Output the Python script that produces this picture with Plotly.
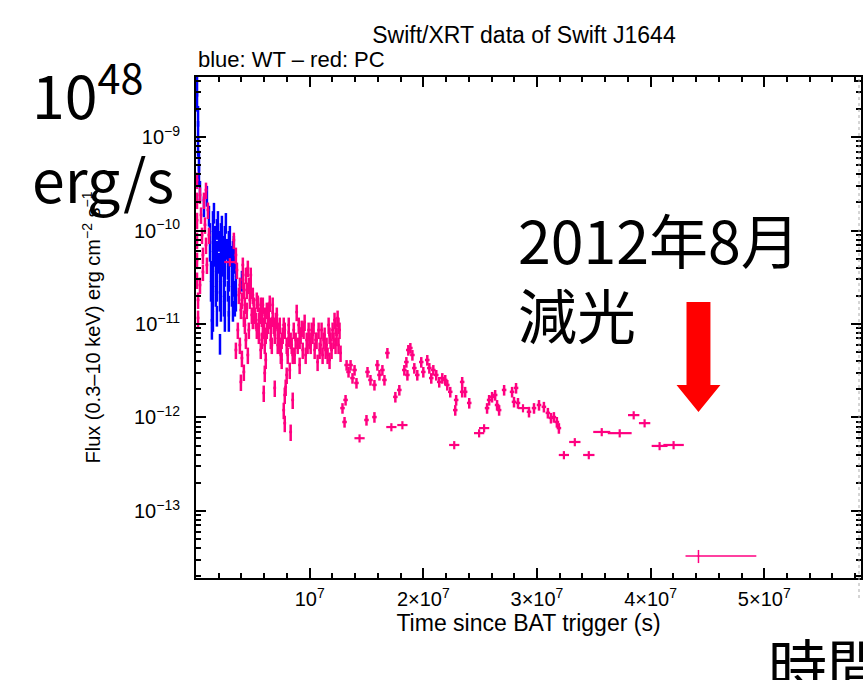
import numpy as np
import plotly.graph_objects as go

# ---------------- data (time in units of 1e7 s, flux in erg cm^-2 s^-1) ----------------
t_wt = [0.009, 0.009, 0.018, 0.018, 0.018, 0.026, 0.026, 0.035, 0.07, 0.096,
        0.114, 0.123, 0.123, 0.132, 0.132, 0.14, 0.14, 0.158, 0.167, 0.167, 0.175, 0.175, 0.184,
        0.193, 0.202, 0.202, 0.211, 0.211, 0.211, 0.228, 0.237, 0.237, 0.246, 0.246, 0.254,
        0.263, 0.272, 0.281, 0.281, 0.289, 0.298, 0.307, 0.316, 0.316, 0.325, 0.333, 0.342,
        0.351, 0.351, 0.404,
        0.149, 0.184, 0.219, 0.254, 0.289, 0.325, 0.149, 0.219,
        0.149, 0.149, 0.149, 0.149, 0.184, 0.184, 0.184, 0.219, 0.219, 0.219,
        0.254, 0.254, 0.254, 0.289, 0.289, 0.289, 0.325, 0.325, 0.342, 0.342]
f_wt = [3.6e-9, 2.49e-9, 1.72e-9, 1.19e-9, 8.2e-10, 5.7e-10, 3.92e-10, 2.71e-10, 1.85e-10, 2.4e-10,
        1.47e-10, 9.6e-11, 6.18e-11, 3.78e-11, 2.31e-11, 1.41e-11, 9.06e-12, 1.58e-10, 8.95e-11,
        5.47e-11, 3.34e-11, 2.04e-11, 1.25e-11, 1.29e-10, 7.9e-11, 4.6e-11, 2.81e-11, 1.81e-11,
        6.26e-12, 1.15e-10, 7.0e-11, 4.28e-11, 2.61e-11, 1.6e-11, 1.1e-11, 1.23e-10, 6.5e-11,
        3.97e-11, 2.31e-11, 1.6e-11, 8.95e-11, 5.47e-11, 3.34e-11, 2.04e-11, 1.41e-11, 7.0e-11,
        4.6e-11, 2.81e-11, 1.81e-11, 2.96e-11,
        4.83e-11, 6.18e-11, 3.78e-11, 5.47e-11, 2.96e-11, 4.28e-11, 1.81e-11, 1.41e-11,
        1.29e-10, 7.9e-11, 2.96e-11, 1.1e-11, 1.06e-10, 3.78e-11, 2.31e-11, 9.6e-11, 6.18e-11, 2.31e-11,
        8.95e-11, 3.34e-11, 1.81e-11, 7.9e-11, 4.83e-11, 1.1e-11, 6.18e-11, 2.61e-11, 2.31e-11, 1.6e-11]

# PC, densely sampled early part (short time bins)
t_pc_dense = [0.009, 0.009, 0.009, 0.009, 0.009, 0.009, 0.018, 0.018, 0.035, 0.044, 0.053, 0.061,
              0.07, 0.079, 0.088, 0.096, 0.105, 0.088, 0.061, 0.035, 0.114,
              0.333, 0.351, 0.36,
              0.386, 0.404, 0.421, 0.439, 0.456, 0.465, 0.474, 0.491, 0.447, 0.421,
              0.368, 0.386, 0.404, 0.421, 0.439, 0.456, 0.395, 0.351,
              0.377, 0.412, 0.43, 0.482, 0.5, 0.465,
              0.509, 0.526, 0.544, 0.553, 0.57, 0.579, 0.596, 0.605, 0.623, 0.632, 0.649, 0.658,
              0.675, 0.693, 0.614,
              0.535, 0.561, 0.588, 0.614, 0.64, 0.667, 0.684, 0.579, 0.711, 0.728, 0.746,
              0.596, 0.693, 0.605, 0.781, 0.789, 0.772, 0.781, 0.833, 0.851,
              0.719, 0.737, 0.754, 0.763, 0.807, 0.825, 0.798, 0.842, 0.86, 0.877,
              0.886, 0.904, 0.921, 0.939, 0.956, 0.974, 0.991, 1.009, 1.026, 1.044,
              1.061, 1.079, 1.096, 1.114, 1.132, 1.149, 1.167, 1.184, 1.202, 1.219,
              1.237, 1.246, 1.254, 1.263, 1.272, 0.912, 1.07, 1.175,
              0.772, 0.816, 0.868, 0.895, 0.93, 0.965, 1.0, 1.035, 1.088, 1.123, 1.158, 1.193,
              1.228, 1.254]
f_pc_dense = [3.47e-10, 2.12e-10, 1.29e-10, 7.9e-11, 4.83e-11, 2.96e-11, 1.81e-11, 1.16e-11, 2.4e-10,
              1.47e-10, 8.95e-11, 5.47e-11, 2.12e-10, 1.15e-10, 7.0e-11, 4.28e-11, 1.66e-10, 2.71e-10,
              3.6e-11, 2.61e-11, 8.95e-11,
              7.9e-11, 5.47e-11, 3.78e-11,
              2.61e-11, 1.81e-11, 2.31e-11, 3.34e-11, 3.97e-11, 2.61e-11, 1.81e-11, 1.25e-11, 1.41e-11,
              1.16e-11,
              8.63e-12, 5.96e-12, 4.32e-12, 3.07e-12, 6.74e-12, 4.66e-12, 2.4e-12, 5.27e-12,
              2.04e-11, 2.96e-11, 1.6e-11, 2.31e-11, 1.1e-11, 8.63e-12,
              1.6e-11, 1.1e-11, 1.68e-11, 7.63e-12, 5.27e-12, 1.16e-11, 8.63e-12, 5.96e-12, 1.41e-11,
              9.76e-12, 1.68e-11, 6.74e-12, 1.16e-11, 7.63e-12, 4.12e-12,
              8.63e-12, 1.25e-11, 1.6e-11, 7.63e-12, 1.1e-11, 5.96e-12, 9.76e-12, 6.74e-12, 1.25e-11,
              6.74e-12, 4.66e-12,
              1.83e-12, 2.07e-12, 2.99e-12, 1.74e-12, 2.12e-12, 1.2e-12, 8.7e-13, 7.0e-13, 1.54e-12,
              8.63e-12, 5.96e-12, 4.12e-12, 7.63e-12, 4.66e-12, 3.22e-12, 2.85e-12, 5.96e-12, 8.63e-12,
              6.74e-12,
              1.34e-11, 9.76e-12, 7.63e-12, 5.27e-12, 1.05e-11, 6.74e-12, 8.63e-12, 5.96e-12, 7.63e-12,
              5.27e-12,
              6.74e-12, 8.63e-12, 5.96e-12, 4.66e-12, 7.63e-12, 5.96e-12, 9.76e-12, 6.74e-12, 8.63e-12,
              1.1e-11,
              7.63e-12, 1.16e-11, 5.96e-12, 8.63e-12, 4.9e-12, 3.64e-12, 3.92e-12, 4.12e-12,
              9.76e-12, 7.08e-12, 4.66e-12, 5.96e-12, 9.06e-12, 4.66e-12, 6.74e-12, 9.76e-12,
              5.27e-12, 6.74e-12, 4.66e-12, 5.27e-12, 5.96e-12, 9.76e-12]

# more PC points inside the dense early band
t_pc_dense2 = [0.395, 0.412, 0.43, 0.447, 0.482, 0.5, 0.518, 0.535, 0.553, 0.57, 0.588, 0.605,
               0.623, 0.64, 0.658, 0.675, 0.702, 0.719, 0.737, 0.754, 0.781, 0.798, 0.816, 0.833,
               0.851,
               0.912, 0.947, 0.982, 1.018, 1.053, 1.105, 1.14, 1.175, 1.211, 1.228]
f_pc_dense2 = [1.41e-11, 4.28e-11, 9.76e-12, 2.31e-11, 3.34e-11, 2.04e-11, 1.25e-11, 1.81e-11,
               1.1e-11, 1.6e-11, 9.76e-12, 1.25e-11, 8.63e-12, 1.41e-11, 9.76e-12, 1.6e-11, 1.1e-11,
               5.96e-12, 9.76e-12, 6.74e-12, 8.63e-12, 5.96e-12, 9.76e-12, 6.74e-12, 4.66e-12,
               6.74e-12, 8.63e-12, 5.96e-12, 8.63e-12, 6.74e-12, 8.63e-12, 5.27e-12, 7.63e-12,
               6.74e-12, 9.76e-12]

# PC, intermediate part
t_pc_mid = [1.289, 1.316, 1.307, 1.325, 1.342, 1.36, 1.377, 1.395, 1.412, 1.5,
            1.57, 1.509, 1.535, 1.57, 1.596, 1.614, 1.64, 1.658, 1.684, 1.754,
            1.789, 1.833, 1.851, 1.868, 1.886, 1.904, 1.921, 1.947, 1.86, 1.982,
            2.0, 2.035, 2.053, 2.07, 2.088, 2.114, 2.14, 2.167, 2.193, 2.211,
            2.237, 2.281, 2.289, 2.342, 2.342, 2.368, 2.404, 2.561, 2.579, 2.605,
            2.632, 2.649, 2.667, 2.711, 2.781, 2.798, 2.816, 2.833, 2.93, 2.974,
            3.018, 3.061, 3.096, 3.123, 3.149, 3.175, 3.193]
f_pc_mid = [1.26e-12, 1.54e-12, 8.95e-13, 3.64e-12, 3.07e-12, 3.64e-12, 2.64e-12, 3.22e-12, 2.34e-12, 9.4e-13,
            1.01e-12, 3.07e-12, 2.52e-12, 2.23e-12, 3.64e-12, 2.85e-12, 3.22e-12, 2.52e-12, 4.9e-12, 1.66e-12,
            1.97e-12, 3.22e-12, 3.92e-12, 5.27e-12, 5.54e-12, 4.66e-12, 3.38e-12, 2.85e-12, 2.85e-12, 3.92e-12,
            3.07e-12, 4.12e-12, 3.38e-12, 2.64e-12, 3.22e-12, 2.85e-12, 2.4e-12, 2.64e-12, 2.52e-12, 2.23e-12,
            1.88e-12, 1.2e-12, 1.54e-12, 1.88e-12, 2.4e-12, 1.88e-12, 1.43e-12, 1.26e-12, 1.54e-12, 1.66e-12,
            1.74e-12, 1.36e-12, 1.2e-12, 1.97e-12, 1.88e-12, 1.47e-12, 2.07e-12, 1.43e-12, 1.15e-12, 1.26e-12,
            1.36e-12, 1.3e-12, 1.12e-12, 9.9e-13, 1.01e-12, 8.95e-13, 7.7e-13]

# PC, wide-bin points (half-width of time bin, units of 1e7 s)
t_pc_wide = [0.298, 1.439, 1.719, 1.816, 2.272, 2.491, 2.535, 2.877, 3.237, 3.333, 3.456,
             3.57, 3.728, 3.851, 3.947, 4.079, 4.202]
f_pc_wide = [4.6e-11, 6.0e-13, 7.9e-13, 8.3e-13, 5.08e-13, 6.8e-13, 7.7e-13, 1.26e-12, 3.97e-13,
             5.47e-13, 3.97e-13, 7.0e-13, 6.8e-13, 1.06e-12, 8.7e-13, 4.96e-13, 5.08e-13]
dt_pc_wide = [0.05, 0.045, 0.045, 0.045, 0.045, 0.045, 0.045, 0.045, 0.045, 0.05, 0.05,
              0.075, 0.105, 0.05, 0.05, 0.07, 0.09]

# last (late) PC point with asymmetric time bin
t_pc_last = [4.421]
f_pc_last = [3.3e-14]
dt_last_minus = [0.114]
dt_last_plus = [0.509]

x_tick_vals = [1e7, 2e7, 3e7, 4e7, 5e7]
x_tick_text = ["10<sup>7</sup>", "2×10<sup>7</sup>", "3×10<sup>7</sup>", "4×10<sup>7</sup>", "5×10<sup>7</sup>"]
y_tick_vals = [1e-13, 1e-12, 1e-11, 1e-10, 1e-9]
y_tick_text = ["10<sup>−13</sup>", "10<sup>−12</sup>", "10<sup>−11</sup>", "10<sup>−10</sup>", "10<sup>−9</sup>"]

BLUE = "#0000ff"
PINK = "#ff0080"
UNIT = 1e7

fig = go.Figure()


def add_series(t, f, color, dx, dy_pct, thick=2.0, dx_minus=None, dx_plus=None):
    x = [v * UNIT for v in t]
    if dx_minus is not None:
        ex = dict(type="data", symmetric=False, array=[v * UNIT for v in dx_plus],
                  arrayminus=[v * UNIT for v in dx_minus], thickness=thick, width=0, color=color)
    elif isinstance(dx, list):
        ex = dict(type="data", array=[v * UNIT for v in dx], thickness=thick, width=0, color=color)
    else:
        ex = dict(type="constant", value=dx * UNIT, thickness=thick, width=0, color=color)
    fig.add_trace(go.Scatter(
        x=x, y=f, mode="markers",
        marker=dict(size=2, color=color),
        error_x=ex,
        error_y=dict(type="percent", value=dy_pct, thickness=thick, width=0, color=color),
        showlegend=False, hoverinfo="skip", cliponaxis=True))


add_series(t_wt, f_wt, BLUE, 0.005, 25, thick=2.5)
add_series(t_pc_dense, f_pc_dense, PINK, 0.012, 20, thick=2.5)
add_series(t_pc_dense2, f_pc_dense2, PINK, 0.012, 20, thick=2.5)
add_series(t_pc_mid, f_pc_mid, PINK, 0.02, 13, thick=2.5)
add_series(t_pc_wide, f_pc_wide, PINK, dt_pc_wide, 10, thick=2.2)
add_series(t_pc_last, f_pc_last, PINK, None, 16, thick=1.5, dx_minus=dt_last_minus, dx_plus=dt_last_plus)

minor_y = [m * 10.0 ** e for e in range(-14, -8) for m in range(2, 10)]

FONT = "Liberation Sans, Arial, sans-serif"
axis_font = dict(family=FONT, size=20, color="black")

fig.update_layout(
    width=863, height=680, autosize=False,
    margin=dict(l=196, r=0, t=77, b=102, pad=0),
    paper_bgcolor="white", plot_bgcolor="white", showlegend=False,
    font=dict(family=FONT, color="black"),
    title=dict(text="Swift/XRT data of Swift J1644", x=524 / 863, xref="container", xanchor="center",
               y=1 - 35 / 680, yref="container", yanchor="middle",
               font=dict(size=23, family=FONT, color="black")),
    xaxis=dict(range=[0, 5.851e7], tickmode="array", tickvals=x_tick_vals, ticktext=x_tick_text,
               ticks="inside", ticklen=10, tickwidth=2, tickcolor="black",
               showline=True, linewidth=2, linecolor="black", mirror="allticks",
               showgrid=False, zeroline=False, tickfont=axis_font, ticklabelstandoff=2,
               minor=dict(tickmode="linear", tick0=0, dtick=2e6, ticks="inside", ticklen=5,
                          tickwidth=1.5, tickcolor="black", showgrid=False),
               title=dict(text="Time since BAT trigger (s)", standoff=5,
                          font=dict(size=23, family=FONT, color="black"))),
    yaxis=dict(type="log", range=[-13.717, -8.358], tickmode="array", tickvals=y_tick_vals,
               ticktext=y_tick_text, ticks="inside", ticklen=10, tickwidth=2, tickcolor="black",
               showline=True, linewidth=2, linecolor="black", mirror="allticks",
               showgrid=False, zeroline=False, tickfont=axis_font, ticklabelstandoff=10,
               minor=dict(tickmode="array", tickvals=minor_y, ticks="inside", ticklen=5,
                          tickwidth=1.5, tickcolor="black", showgrid=False),
               title=dict(text="Flux (0.3–10 keV) erg cm<sup>−2</sup> s<sup>−1</sup>", standoff=28,
                          font=dict(size=20, family=FONT, color="black"))),
)

big = dict(family="Noto Sans CJK JP, Noto Sans, sans-serif", size=59, color="black")

fig.add_annotation(text="blue: WT – red: PC", xref="paper", yref="paper", x=0, y=1.034,
                   xanchor="left", yanchor="middle", showarrow=False,
                   font=dict(size=22, family=FONT, color="black"))
fig.add_annotation(text="10<sup>48</sup>", xref="paper", yref="paper", x=-0.2489, y=0.972,
                   xanchor="left", yanchor="middle", showarrow=False, font=big)
fig.add_annotation(text="erg/s", xref="paper", yref="paper", x=-0.2489, y=0.80,
                   xanchor="left", yanchor="middle", showarrow=False, font=big)
fig.add_annotation(text="2012年8月", xref="paper", yref="paper", x=0.4813, y=0.678,
                   xanchor="left", yanchor="middle", showarrow=False, font=big)
fig.add_annotation(text="減光", xref="paper", yref="paper", x=0.4813, y=0.528,
                   xanchor="left", yanchor="middle", showarrow=False, font=big)
fig.add_annotation(text="時間", xref="paper", yref="paper", x=0.8576, y=-0.17,
                   xanchor="left", yanchor="middle", showarrow=False, font=big)

# red arrow
fig.add_shape(type="path", xref="paper", yref="paper",
              path="M 0.7376,0.5509 L 0.7736,0.5509 L 0.7736,0.3852 L 0.7886,0.3852 "
                   "L 0.7556,0.3313 L 0.7226,0.3852 L 0.7376,0.3852 Z",
              fillcolor="#ff0000", line=dict(width=0))
# faint dotted slide edge on the right
fig.add_shape(type="line", xref="paper", yref="paper", x0=0.997, x1=0.997, y0=-0.04, y1=1.0,
              line=dict(color="#aaaaaa", width=1, dash="dot"))

fig.write_html("out.html")
